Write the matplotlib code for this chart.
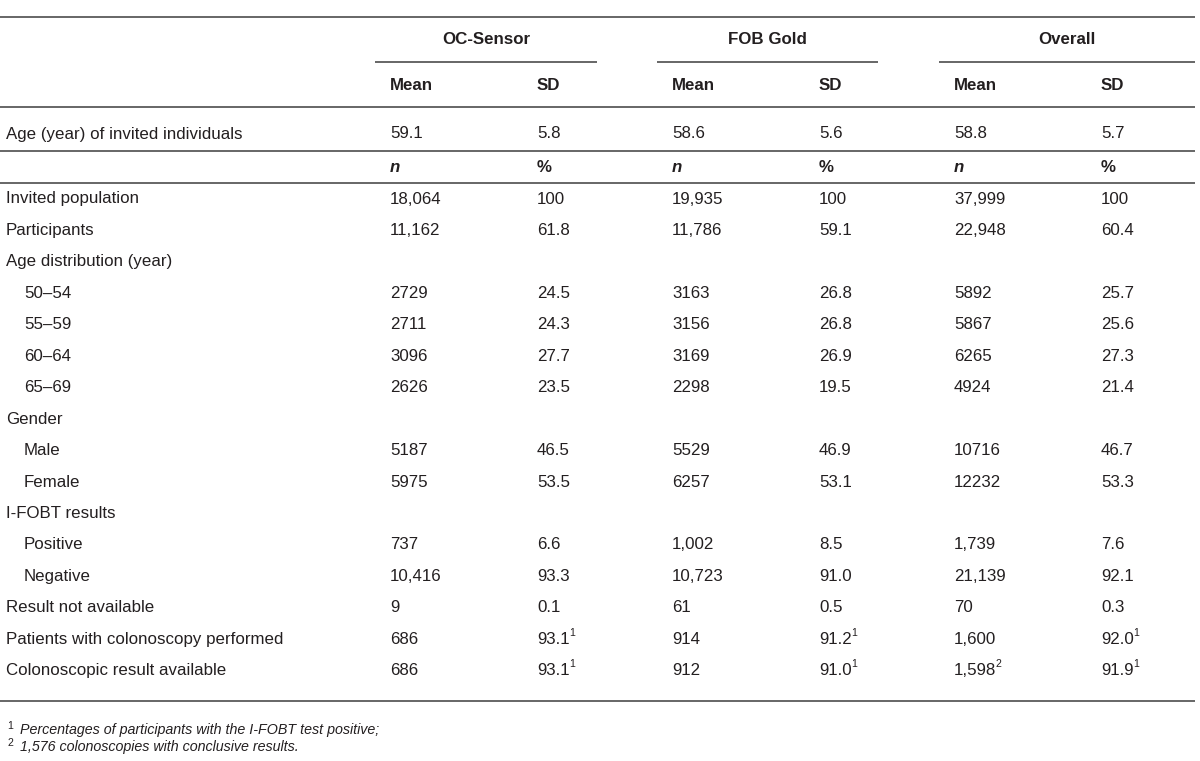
import matplotlib
matplotlib.use("Agg")
import matplotlib.pyplot as plt
from matplotlib import font_manager as fm

# ---------------- data ----------------
groups = ["OC-Sensor", "FOB Gold", "Overall"]
sub_headers_1 = ["Mean", "SD"]
sub_headers_2 = ["n", "%"]

age_label = "Age (year) of invited individuals"
age_mean = ["59.1", "58.6", "58.8"]
age_sd = ["5.8", "5.6", "5.7"]

row_labels = ["Invited population", "Participants", "Age distribution (year)",
              "50–54", "55–59", "60–64", "65–69", "Gender", "Male", "Female",
              "I-FOBT results", "Positive", "Negative", "Result not available",
              "Patients with colonoscopy performed", "Colonoscopic result available"]
row_indent = [False, False, False, True, True, True, True, False, True, True,
              False, True, True, False, False, False]

oc_n = ["18,064", "11,162", "", "2729", "2711", "3096", "2626", "", "5187", "5975",
        "", "737", "10,416", "9", "686", "686"]
oc_pct = ["100", "61.8", "", "24.5", "24.3", "27.7", "23.5", "", "46.5", "53.5",
          "", "6.6", "93.3", "0.1", "93.1", "93.1"]
fob_n = ["19,935", "11,786", "", "3163", "3156", "3169", "2298", "", "5529", "6257",
         "", "1,002", "10,723", "61", "914", "912"]
fob_pct = ["100", "59.1", "", "26.8", "26.8", "26.9", "19.5", "", "46.9", "53.1",
           "", "8.5", "91.0", "0.5", "91.2", "91.0"]
all_n = ["37,999", "22,948", "", "5892", "5867", "6265", "4924", "", "10716", "12232",
         "", "1,739", "21,139", "70", "1,600", "1,598"]
all_pct = ["100", "60.4", "", "25.7", "25.6", "27.3", "21.4", "", "46.7", "53.3",
           "", "7.6", "92.1", "0.3", "92.0", "91.9"]

# superscript footnote markers: (row index, column index) -> marker
superscripts = {(14, 1): "1", (14, 3): "1", (14, 5): "1",
                (15, 1): "1", (15, 3): "1", (15, 4): "2", (15, 5): "1"}

footnotes = [("1", "Percentages of participants with the I-FOBT test positive;"),
             ("2", "1,576 colonoscopies with conclusive results.")]

# ---------------- fonts ----------------
def find_font(name, fallback_family, **kw):
    for f in fm.findSystemFonts():
        if f.split("/")[-1] == name:
            return fm.FontProperties(fname=f)
    return fm.FontProperties(family=fallback_family, **kw)

F_REG = find_font("LiberationSans-Regular.ttf", "sans-serif")
F_BOLD = find_font("LiberationSans-Bold.ttf", "sans-serif", weight="bold")
F_IT = find_font("LiberationSans-Italic.ttf", "sans-serif", style="italic")
F_BI = find_font("LiberationSans-BoldItalic.ttf", "sans-serif", weight="bold", style="italic")

# ---------------- layout ----------------
W, H = 1200, 761
fig = plt.figure(figsize=(W / 100, H / 100), dpi=100)
ax = fig.add_axes([0, 0, 1, 1])
ax.set_xlim(0, W)
ax.set_ylim(H, 0)
ax.axis("off")

FS = 12.2
TC = "#231f20"
LC = "#5a5a5a"
LW = 1.3

col_x = [390, 537, 672, 819, 954, 1101]
group_span = [(375, 597), (657, 878), (939, 1195)]

# horizontal rules
for y in [17, 107, 151, 183, 701]:
    ax.plot([0, 1195], [y, y], color=LC, lw=LW, solid_capstyle="butt")
for (x0, x1) in group_span:
    ax.plot([x0, x1], [62, 62], color=LC, lw=LW, solid_capstyle="butt")

def txt(x, y, s, fp=F_REG, size=FS, **kw):
    p = fp.copy()
    p.set_size(size)
    d = dict(color=TC, va="center", ha="left", fontproperties=p)
    d.update(kw)
    return ax.text(x, y, s, **d)

# group headers
group_cx = [486, 767, 1067]
for g, cx in zip(groups, group_cx):
    txt(cx, 40, g, fp=F_BOLD, ha="center")

for i, x in enumerate(col_x):
    txt(x, 86, sub_headers_1[i % 2], fp=F_BOLD)
    txt(x, 167, sub_headers_2[i % 2], fp=F_BI if i % 2 == 0 else F_BOLD)

# age row
txt(6, 134, age_label)
for k in range(3):
    txt(col_x[2 * k], 134, age_mean[k])
    txt(col_x[2 * k + 1], 134, age_sd[k])

# body rows
cols = [oc_n, oc_pct, fob_n, fob_pct, all_n, all_pct]
y0, dy = 199, 31.45
fig.canvas.draw()
renderer = fig.canvas.get_renderer()
inv = ax.transData.inverted()
for r, lab in enumerate(row_labels):
    y = y0 + r * dy
    txt(24 if row_indent[r] else 6, y, lab)
    for c, col in enumerate(cols):
        if col[r]:
            t = txt(col_x[c], y, col[r])
            if (r, c) in superscripts:
                bb = t.get_window_extent(renderer=renderer)
                xe = inv.transform((bb.x1, bb.y1))[0]
                txt(xe - 0.5, y - 6.5, superscripts[(r, c)], size=FS * 0.62)

# footnotes
for i, (m, s) in enumerate(footnotes):
    y = 730 + i * 16.5
    txt(7, y - 4, m, size=FS * 0.62)
    txt(20, y, s, fp=F_IT, size=10.3)

fig.savefig("out.png", dpi=100, facecolor="white")
